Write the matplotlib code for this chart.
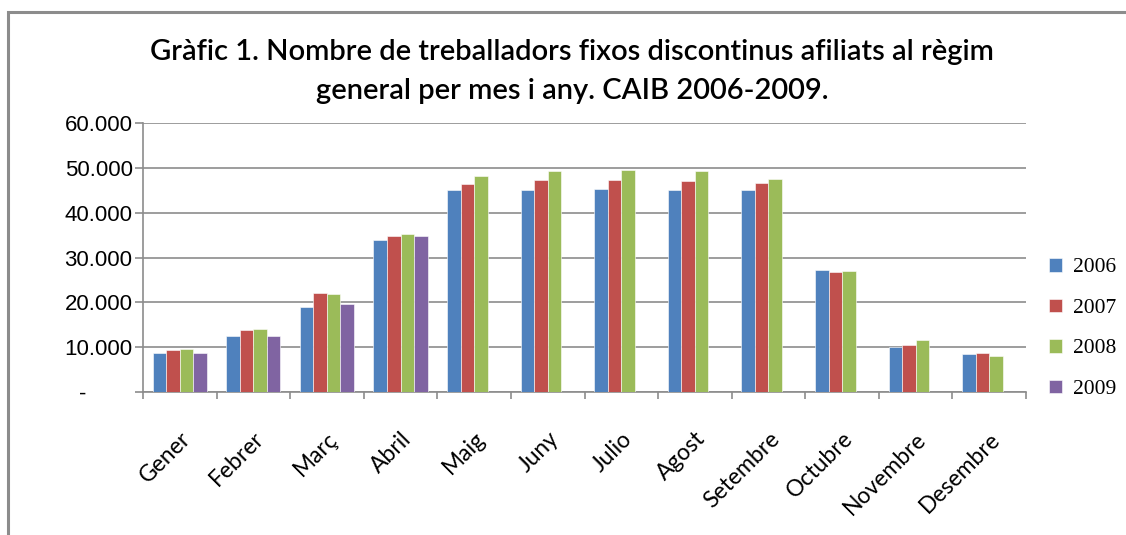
import numpy as np
import matplotlib
matplotlib.use("Agg")
import matplotlib.pyplot as plt
from matplotlib.patches import Rectangle
from matplotlib.ticker import FuncFormatter, FixedLocator
from matplotlib.transforms import ScaledTranslation


# Data (workers per month)
months = ["Gener", "Febrer", "Març", "Abril", "Maig", "Juny", "Julio",
          "Agost", "Setembre", "Octubre", "Novembre", "Desembre"]
years = ["2006", "2007", "2008", "2009"]

v2006 = [8600, 12400, 18900, 33800, 45000, 45000, 45200, 45000, 45000, 27200, 10100, 8400]
v2007 = [9300, 13800, 22100, 34900, 46400, 47200, 47200, 47000, 46700, 26700, 10400, 8700]
v2008 = [9500, 14100, 21800, 35200, 48100, 49200, 49500, 49200, 47500, 26900, 11600, 8100]
v2009 = [8600, 12600, 19600, 34900, np.nan, np.nan, np.nan, np.nan, np.nan, np.nan, np.nan, np.nan]

colors = ["#4F81BD", "#C0504D", "#9BBB59", "#8064A2"]


fig = plt.figure(figsize=(11.26, 5.35), dpi=100)
ax = fig.add_axes([143 / 1126, 1 - 392 / 535, (1026 - 143) / 1126, (392 - 123) / 535])

# outer frame (only top and left edges visible in the reference)
fig.add_artist(Rectangle((8 / 1126, -0.1), 1.2, 1 - 12 / 535 + 0.1,
                         transform=fig.transFigure, fill=False,
                         edgecolor="#8c8c8c", linewidth=2.2))

x = np.arange(len(months))
bw = 0.184
series = [v2006, v2007, v2008, v2009]
for i, vals in enumerate(series):
    ax.bar(x - 1.5 * bw + i * bw, vals, width=bw, color=colors[i],
           edgecolor="white", linewidth=0.4, label=years[i], zorder=3)

ax.set_xlim(-0.5, len(months) - 0.5)
ax.set_ylim(0, 60000)
ax.set_yticks(np.arange(0, 60001, 10000))
ax.yaxis.set_major_formatter(FuncFormatter(
    lambda v, p: "-" if v == 0 else f"{int(v):,}".replace(",", ".")))
ax.grid(axis="y", color="#8c8c8c", linewidth=1.2, zorder=0)

ax.set_xticks(x)
ax.set_xticklabels(months, rotation=45, ha="right", va="top", rotation_mode="anchor",
                   fontsize=16.5, family="Lato")
shift = ScaledTranslation(-7 / 100, -2 / 100, fig.dpi_scale_trans)
for lab in ax.get_xticklabels():
    lab.set_transform(lab.get_transform() + shift)
ax.xaxis.set_minor_locator(FixedLocator(np.arange(-0.5, len(months), 1)))
ax.tick_params(axis="x", which="major", length=0, pad=26)
ax.tick_params(axis="x", which="minor", length=5, color="#8c8c8c", width=1.2)
ax.tick_params(axis="y", length=5.5, color="#8c8c8c", width=1.2, labelsize=16, pad=2)
for lab in ax.get_yticklabels():
    lab.set_family("Liberation Sans")
# accounting-style dash for zero sits further left
zero_lab = ax.get_yticklabels()[0]
zero_lab.set_transform(zero_lab.get_transform()
                       + ScaledTranslation(-46 / 100, 0, fig.dpi_scale_trans))

for s in ["top", "right"]:
    ax.spines[s].set_visible(False)
ax.spines["left"].set_color("#8c8c8c")
ax.spines["bottom"].set_color("#8c8c8c")
ax.spines["left"].set_linewidth(1.2)
ax.spines["bottom"].set_linewidth(1.2)

leg = fig.legend(loc="upper left", bbox_to_anchor=(1049 / 1126, 1 - 258 / 535),
                 frameon=False, prop={"family": "Liberation Serif", "size": 15.5},
                 handlelength=0.6, handleheight=0.6, handletextpad=0.5,
                 labelspacing=0.98, borderpad=0, borderaxespad=0)

fig.text(572 / 1126, 1 - 52 / 535,
         "Gràfic 1. Nombre de treballadors fixos discontinus afiliats al règim",
         ha="center", va="center", fontsize=21, family="Lato", weight="semibold")
fig.text(572 / 1126, 1 - 91 / 535, "general per mes i any. CAIB 2006-2009.",
         ha="center", va="center", fontsize=21, family="Lato", weight="semibold")

fig.savefig("out.png", dpi=100, facecolor="white")
